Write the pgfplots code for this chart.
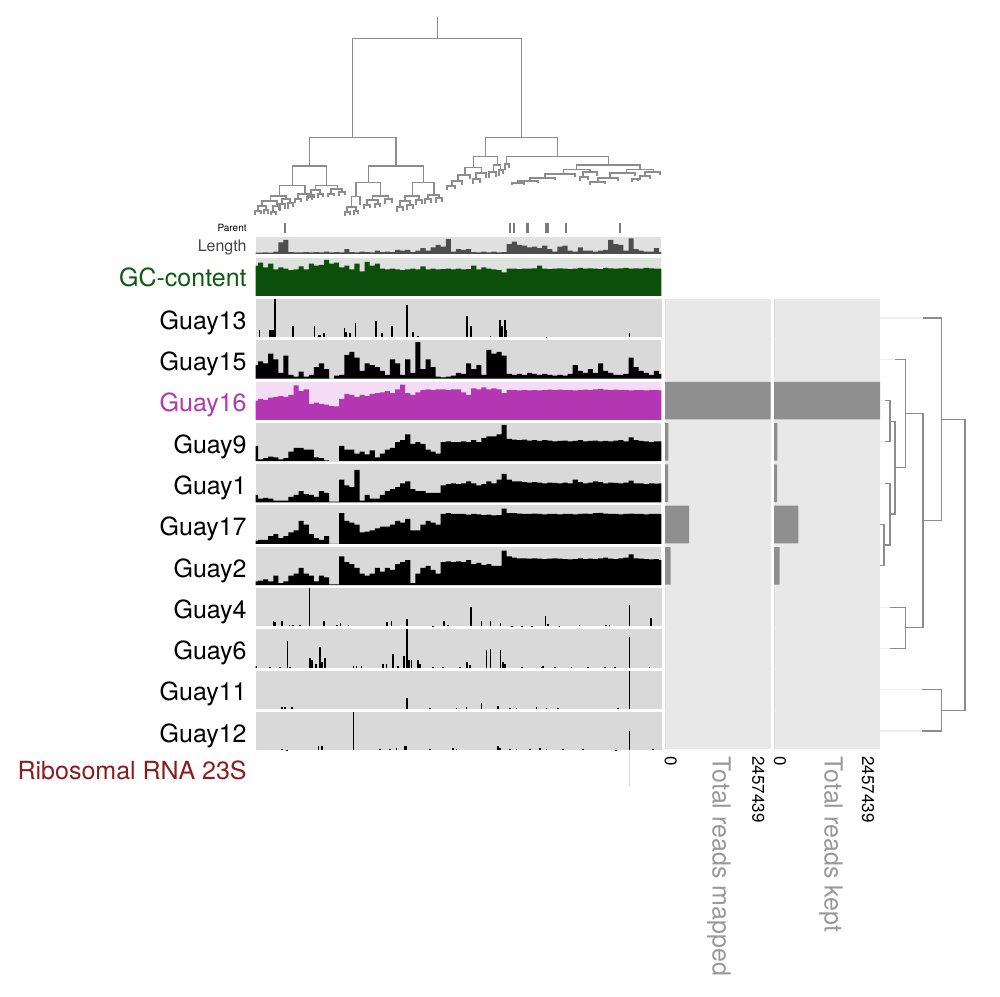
\documentclass[border=0pt]{standalone}
\usepackage{pgfplots}
\pgfplotsset{compat=1.18}
\usepackage{pgfplotstable}
\usepackage{fontspec}
\setmainfont{TeX Gyre Heros}

\definecolor{trackbg}{HTML}{D9D9D9}
\definecolor{panelbg}{HTML}{E8E8E8}
\definecolor{bargray}{HTML}{8F8F8F}
\definecolor{dendro}{HTML}{8C8C8C}
\definecolor{dendrofaint}{HTML}{EDEDED}
\definecolor{parentgray}{HTML}{7A7A7A}
\definecolor{gcgreen}{HTML}{0B4F0B}
\definecolor{gclabel}{HTML}{0E5C0E}
\definecolor{gcbg}{HTML}{DEE2DE}
\definecolor{lenbar}{HTML}{4D4D4D}
\definecolor{lenbg}{HTML}{E0E0E0}
\definecolor{lenlabel}{HTML}{444444}
\definecolor{mag}{HTML}{B336B3}
\definecolor{pinkbg}{HTML}{F5DCF5}
\definecolor{rrna}{HTML}{8B1C1C}
\definecolor{rrnaline}{HTML}{F5CFC4}
\definecolor{axisgray}{HTML}{999999}

% binned coverage profiles (81 bins along the genome, scaled 0..1 per track)
\pgfplotstableread{
k  gc   len  g15  g16  g9   g1   g17  g2
0  0.80 0.08 0.35 0.50 0.40 0.20 0.08 0.10
1  0.88 0.08 0.45 0.55 0.05 0.10 0.10 0.12
2  0.75 0.10 0.40 0.52 0.08 0.12 0.10 0.15
3  0.85 0.08 0.65 0.58 0.12 0.10 0.20 0.10
4  0.70 0.15 0.50 0.60 0.10 0.05 0.25 0.25
5  0.75 0.70 0.15 0.62 0.05 0.05 0.15 0.05
6  0.72 0.85 0.60 0.60 0.08 0.05 0.20 0.10
7  0.68 0.12 0.10 0.65 0.25 0.15 0.30 0.25
8  0.70 0.10 0.05 0.90 0.35 0.20 0.35 0.30
9  0.78 0.10 0.18 0.75 0.35 0.30 0.60 0.45
10 0.70 0.12 0.05 0.80 0.30 0.22 0.50 0.30
11 0.85 0.10 0.10 0.42 0.30 0.20 0.25 0.25
12 0.80 0.12 0.30 0.45 0.10 0.15 0.15 0.10
13 0.82 0.10 0.40 0.42 0.08 0.30 0.10 0.25
14 0.95 0.15 0.25 0.40 0.02 0.25 0.20 0.20
15 0.85 0.10 0.00 0.36 0.00 0.02 0.00 0.02
16 0.88 0.12 0.08 0.35 0.00 0.02 0.00 0.02
17 0.75 0.10 0.10 0.55 0.40 0.60 0.80 0.75
18 0.80 0.30 0.62 0.68 0.30 0.45 0.60 0.60
19 0.70 0.12 0.70 0.65 0.30 0.40 0.55 0.55
20 0.85 0.10 0.55 0.60 0.20 0.85 0.50 0.45
21 0.65 0.15 0.20 0.65 0.25 0.05 0.30 0.30
22 0.90 0.12 0.40 0.62 0.18 0.20 0.32 0.25
23 0.80 0.10 0.35 0.68 0.28 0.10 0.35 0.30
24 0.85 0.20 0.30 0.70 0.10 0.10 0.40 0.45
25 0.72 0.12 0.20 0.72 0.20 0.20 0.45 0.35
26 0.70 0.15 0.10 0.75 0.30 0.30 0.45 0.45
27 0.72 0.12 0.50 0.70 0.35 0.35 0.50 0.40
28 0.70 0.25 0.40 0.80 0.50 0.40 0.60 0.55
29 0.68 0.20 0.10 0.92 0.55 0.50 0.55 0.60
30 0.70 0.25 0.50 0.70 0.70 0.55 0.65 0.65
31 0.72 0.12 0.15 0.65 0.45 0.35 0.35 0.05
32 0.70 0.20 0.95 0.72 0.50 0.30 0.35 0.30
33 0.78 0.35 0.25 0.78 0.45 0.30 0.50 0.45
34 0.70 0.20 0.50 0.80 0.30 0.25 0.60 0.50
35 0.72 0.40 0.30 0.78 0.25 0.25 0.55 0.40
36 0.70 0.55 0.05 0.80 0.20 0.25 0.50 0.30
37 0.71 0.45 0.03 0.80 0.50 0.45 0.78 0.60
38 0.72 0.90 0.05 0.78 0.52 0.48 0.80 0.62
39 0.70 0.15 0.08 0.80 0.50 0.50 0.78 0.60
40 0.72 0.30 0.15 0.80 0.50 0.48 0.78 0.62
41 0.70 0.25 0.12 0.72 0.52 0.50 0.78 0.60
42 0.71 0.30 0.40 0.65 0.50 0.55 0.76 0.65
43 0.80 0.12 0.25 0.82 0.55 0.50 0.78 0.55
44 0.70 0.10 0.35 0.80 0.50 0.45 0.77 0.58
45 0.75 0.15 0.10 0.85 0.60 0.48 0.75 0.52
46 0.72 0.10 0.75 0.80 0.65 0.55 0.76 0.55
47 0.70 0.15 0.65 0.82 0.65 0.50 0.74 0.50
48 0.68 0.10 0.70 0.80 0.70 0.60 0.75 0.50
49 0.62 0.12 0.60 0.70 0.95 0.75 0.92 0.90
50 0.72 0.60 0.12 0.78 0.58 0.60 0.80 0.75
51 0.72 0.75 0.10 0.78 0.56 0.55 0.80 0.72
52 0.71 0.55 0.12 0.77 0.55 0.55 0.79 0.70
53 0.72 0.50 0.10 0.78 0.56 0.53 0.78 0.70
54 0.72 0.40 0.15 0.77 0.54 0.52 0.78 0.69
55 0.73 0.45 0.12 0.78 0.55 0.53 0.79 0.70
56 0.80 0.35 0.10 0.77 0.53 0.52 0.78 0.69
57 0.72 0.50 0.12 0.78 0.55 0.50 0.77 0.68
58 0.71 0.30 0.10 0.79 0.54 0.52 0.78 0.69
59 0.72 0.15 0.08 0.78 0.52 0.51 0.78 0.70
60 0.73 0.45 0.10 0.79 0.53 0.50 0.77 0.69
61 0.72 0.50 0.08 0.78 0.54 0.52 0.78 0.68
62 0.71 0.20 0.12 0.78 0.52 0.50 0.78 0.67
63 0.72 0.15 0.35 0.77 0.53 0.60 0.77 0.68
64 0.74 0.40 0.20 0.78 0.55 0.53 0.78 0.70
65 0.72 0.20 0.15 0.79 0.52 0.50 0.79 0.68
66 0.73 0.20 0.25 0.78 0.53 0.52 0.78 0.69
67 0.72 0.15 0.15 0.80 0.54 0.55 0.80 0.68
68 0.71 0.20 0.40 0.81 0.52 0.53 0.81 0.70
69 0.74 0.25 0.20 0.79 0.53 0.50 0.79 0.72
70 0.73 0.85 0.15 0.78 0.52 0.52 0.78 0.69
71 0.72 0.60 0.10 0.79 0.54 0.51 0.78 0.68
72 0.73 0.55 0.10 0.78 0.55 0.50 0.77 0.70
73 0.74 0.20 0.12 0.78 0.52 0.52 0.78 0.72
74 0.72 0.95 0.55 0.77 0.62 0.57 0.79 0.80
75 0.73 0.30 0.30 0.78 0.55 0.50 0.78 0.70
76 0.72 0.20 0.20 0.78 0.53 0.50 0.78 0.69
77 0.74 0.15 0.15 0.77 0.52 0.48 0.77 0.68
78 0.73 0.15 0.10 0.78 0.50 0.50 0.78 0.67
79 0.72 0.35 0.20 0.78 0.52 0.49 0.78 0.68
80 0.72 0.12 0.12 0.77 0.52 0.50 0.78 0.66
}\dense

\pgfplotsset{
  track/.style={scale only axis, width=203pt, height=19.15pt,
    axis line style={draw=none}, ticks=none,
    ymin=0, ymax=1, anchor=north west,
    axis background/.style={fill=trackbg}},
  dense/.style={track, xmin=0, xmax=80},
  sparse/.style={track, xmin=0, xmax=1220},
  panel/.style={scale only axis, anchor=north west, width=53pt, height=225pt,
    xmin=0, xmax=2457439, ymin=-0.453, ymax=10.443, y dir=reverse,
    xbar, bar width=0.91, axis line style={draw=none}, ticks=none,
    axis background/.style={fill=panelbg}},
  spike/.style={ycomb, black, line width=0.8pt},
  prof/.style={const plot mark mid, draw=none, fill=#1},
}

\begin{document}
\begin{tikzpicture}
\useasboundingbox (0,0) rectangle (500pt,498pt);

% Parent
\begin{axis}[sparse, at={(127.75pt,386.35pt)}, height=5pt, axis background/.style={}]
\addplot[ycomb, color=parentgray, line width=0.9pt] coordinates {(89,1) (764,1) (776,1) (934,1) (1096,1)};
\addplot[ycomb, color=parentgray, line width=1.8pt] coordinates {(817,1) (876,1)};
\end{axis}

% Length
\begin{axis}[dense, at={(127.75pt,379.25pt)}, height=8.25pt, axis background/.style={fill=lenbg}]
\addplot[prof=lenbar] table[x=k, y=len] {\dense} \closedcycle;
\end{axis}

% GC-content
\begin{axis}[dense, at={(127.75pt,369pt)}, height=19pt, axis background/.style={fill=gcbg}]
\addplot[prof=gcgreen] table[x=k, y=gc] {\dense} \closedcycle;
\end{axis}

% Guay13
\begin{axis}[sparse, at={(127.75pt,348.5pt)}]
\addplot[spike] coordinates {(12,0.2) (42,0.2) (46,0.2) (52,0.2) (59,1.0) (112,0.3) (177,0.3) (189,0.05) (194,0.07) (206,0.1) (268,0.25) (272,0.15) (284,0.1) (301,0.37) (362,0.42) (381,0.1) (411,0.3) (456,0.85) (474,0.15) (489,0.03) (636,0.55) (648,0.3) (706,0.03) (734,0.45) (741,0.3) (749,0.45) (752,0.2) (874,0.02) (1124,0.1)};
\end{axis}

% Guay15
\begin{axis}[dense, at={(127.75pt,327.85pt)}]
\addplot[prof=black] table[x=k, y=g15] {\dense} \closedcycle;
\end{axis}

% Guay16
\begin{axis}[dense, at={(127.75pt,307.2pt)}, axis background/.style={fill=pinkbg}]
\addplot[prof=mag] table[x=k, y=g16] {\dense} \closedcycle;
\end{axis}

% Guay9
\begin{axis}[dense, at={(127.75pt,286.55pt)}]
\addplot[prof=black] table[x=k, y=g9] {\dense} \closedcycle;
\end{axis}

% Guay1
\begin{axis}[dense, at={(127.75pt,265.9pt)}]
\addplot[prof=black] table[x=k, y=g1] {\dense} \closedcycle;
\end{axis}

% Guay17
\begin{axis}[dense, at={(127.75pt,245.25pt)}]
\addplot[prof=black] table[x=k, y=g17] {\dense} \closedcycle;
\end{axis}

% Guay2
\begin{axis}[dense, at={(127.75pt,224.6pt)}]
\addplot[prof=black] table[x=k, y=g2] {\dense} \closedcycle;
\end{axis}

% Guay4
\begin{axis}[sparse, at={(127.75pt,203.95pt)}]
\addplot[spike] coordinates {(54,0.15) (59,0.12) (79,0.15) (102,0.03) (112,0.03) (134,0.03) (162,1.0) (206,0.15) (244,0.03) (256,0.08) (279,0.03) (396,0.12) (409,0.15) (456,0.2) (534,0.02) (567,0.15) (579,0.04) (647,0.5) (679,0.15) (706,0.15) (736,0.08) (770,0.02) (800,0.02) (830,0.02) (871,0.27) (879,0.05) (914,0.02) (974,0.03) (1054,0.04) (1064,0.04) (1124,0.55) (1189,0.22)};
\end{axis}

% Guay6
\begin{axis}[sparse, at={(127.75pt,183.3pt)}]
\addplot[spike] coordinates {(2,0.05) (44,0.03) (74,0.03) (96,0.7) (104,0.03) (164,0.25) (169,0.2) (182,0.1) (194,0.55) (199,0.15) (209,0.25) (294,0.04) (304,0.04) (319,0.05) (384,0.1) (394,0.1) (414,0.35) (429,0.05) (446,0.3) (456,1.0) (462,0.2) (469,0.2) (489,0.2) (494,0.1) (534,0.02) (564,0.02) (614,0.02) (636,0.15) (644,0.08) (694,0.45) (706,0.5) (736,0.45) (744,0.15) (749,0.1) (800,0.03) (860,0.03) (864,0.04) (900,0.03) (950,0.03) (1000,0.03) (1050,0.03) (1080,0.03) (1124,0.8) (1184,0.02)};
\end{axis}

% Guay11
\begin{axis}[sparse, at={(127.75pt,162.65pt)}]
\addplot[spike] coordinates {(79,0.04) (89,0.04) (109,0.05) (456,0.28) (524,0.03) (604,0.03) (634,0.04) (679,0.15) (729,0.08) (764,0.03) (784,0.03) (844,0.04) (874,0.03) (909,0.03) (1089,0.02) (1124,1.0)};
\end{axis}

% Guay12
\begin{axis}[sparse, at={(127.75pt,142pt)}]
\addplot[spike] coordinates {(79,0.03) (94,0.02) (189,0.12) (199,0.12) (294,1.0) (374,0.03) (404,0.04) (424,0.05) (449,0.1) (454,0.12) (524,0.03) (594,0.05) (604,0.04) (729,0.1) (734,0.07) (764,0.03) (784,0.03) (824,0.04) (854,0.05) (874,0.03) (924,0.04) (984,0.03) (1084,0.02) (1124,0.5) (1194,0.03)};
\end{axis}

% Ribosomal RNA 23S
\begin{axis}[sparse, at={(127.75pt,122.5pt)}, height=17.5pt, axis background/.style={}]
\addplot[ycomb, color=rrnaline, line width=0.6pt] coordinates {(1124,1)};
\end{axis}

% Total reads mapped
\begin{axis}[panel, at={(332.5pt,348.35pt)}, width=52.85pt]
\addplot[fill=bargray, draw=none] coordinates {(2000,0) (2500,1) (2457439,2) (76000,3) (70000,4) (558000,5) (132000,6) (0,7) (0,8) (0,9) (0,10)};
\end{axis}

% Total reads kept
\begin{axis}[panel, at={(387pt,348.35pt)}]
\addplot[fill=bargray, draw=none] coordinates {(1500,0) (2000,1) (2457439,2) (76000,3) (74000,4) (563000,5) (132000,6) (0,7) (0,8) (0,9) (0,10)};
\end{axis}

% overlay in pixel units: dendrograms and labels
\begin{axis}[at={(0pt,0pt)}, anchor=south west, scale only axis, width=500pt, height=498pt,
  xmin=0, xmax=1000, ymin=0, ymax=996, y dir=reverse, hide axis, clip=false,
  unbounded coords=jump]
% column dendrogram
\addplot[color=dendro, line width=0.55pt] coordinates {
(437.3,17.3) (437.3,38.3) (nan,nan)
(352.7,137.7) (352.7,38.3) (521.7,38.3) (521.7,137.7) (nan,nan)
(309.3,166) (309.3,137.7) (396,137.7) (396,166) (nan,nan)
(292.3,185.7) (292.3,166) (326.7,166) (326.7,185.7) (nan,nan)
(279.3,196) (279.3,185.7) (305,185.7) (305,194) (nan,nan)
(270.7,201) (270.7,196) (286,196) (286,199) (nan,nan)
(262,206) (262,201) (277,201) (277,206) (nan,nan)
(258,211) (258,206) (266,206) (266,210) (nan,nan)
(255,215) (255,211) (261,211) (261,214) (nan,nan)
(264,214) (264,210) (268,210) (268,214) (nan,nan)
(273,212) (273,206) (280,206) (280,211) (nan,nan)
(271,215) (271,212) (276,212) (276,215) (nan,nan)
(282,204) (282,199) (290,199) (290,203) (nan,nan)
(279,210) (279,204) (285,204) (285,209) (nan,nan)
(288,209) (288,203) (293,203) (293,207) (nan,nan)
(298,199) (298,194) (310,194) (310,197) (nan,nan)
(295,203) (295,199) (301,199) (301,202) (nan,nan)
(307,201) (307,197) (312,197) (312,200) (nan,nan)
(315.7,190) (315.7,185.7) (337.3,185.7) (337.3,189) (nan,nan)
(311,195) (311,190) (320,190) (320,194) (nan,nan)
(308,199) (308,195) (314,195) (314,198) (nan,nan)
(318,198) (318,194) (323,194) (323,197) (nan,nan)
(331,194) (331,189) (342,189) (342,192) (nan,nan)
(328,197) (328,194) (334,194) (334,196) (nan,nan)
(339,196) (339,192) (345,192) (345,195) (nan,nan)
(368.3,182.7) (368.3,166) (423.3,166) (423.3,182.7) (nan,nan)
(356,196.7) (356,182.7) (380.7,182.7) (380.7,196) (nan,nan)
(351.7,207) (351.7,196.7) (360,196.7) (360,205) (nan,nan)
(347,212) (347,207) (356,207) (356,211) (nan,nan)
(345,216) (345,212) (350,212) (350,215) (nan,nan)
(354,215) (354,211) (358,211) (358,214) (nan,nan)
(372.7,200) (372.7,196) (388.3,196) (388.3,199) (nan,nan)
(367,205) (367,200) (378,200) (378,204) (nan,nan)
(364,209) (364,205) (370,205) (370,208) (nan,nan)
(375,208) (375,204) (380,204) (380,207) (nan,nan)
(385,204) (385,199) (392,199) (392,203) (nan,nan)
(412.7,196) (412.7,182.7) (434,182.7) (434,195) (nan,nan)
(405,201) (405,196) (419,196) (419,200) (nan,nan)
(400,207) (400,201) (410,201) (410,205) (nan,nan)
(397,212) (397,207) (403,207) (403,211) (nan,nan)
(407,210) (407,205) (413,205) (413,209) (nan,nan)
(416,205) (416,200) (422,200) (422,204) (nan,nan)
(428,199) (428,195) (439,195) (439,198) (nan,nan)
(425,204) (425,199) (431,199) (431,203) (nan,nan)
(436,203) (436,198) (442,198) (442,202) (nan,nan)
(485.7,156.7) (485.7,137.7) (557.3,137.7) (557.3,156.7) (nan,nan)
(473.3,167.7) (473.3,156.7) (497.3,156.7) (497.3,165) (nan,nan)
(465,175) (465,167.7) (481.7,167.7) (481.7,173) (nan,nan)
(458,181) (458,175) (470,175) (470,179) (nan,nan)
(452,186) (452,181) (462,181) (462,185) (nan,nan)
(447,190) (447,186) (455,186) (455,189) (nan,nan)
(476,179) (476,173) (486,173) (486,178) (nan,nan)
(473,184) (473,179) (480,179) (480,183) (nan,nan)
(493.3,172) (493.3,165) (500.7,165) (500.7,170) (nan,nan)
(489,178) (489,172) (496,172) (496,177) (nan,nan)
(499,176) (499,170) (503,170) (503,174) (nan,nan)
(506.7,164) (506.7,156.7) (608.3,156.7) (608.3,165) (nan,nan)
(505,170) (505,164) (509,164) (509,168) (nan,nan)
(576.7,169.3) (576.7,165) (640,165) (640,169.3) (nan,nan)
(563.3,174) (563.3,169.3) (590,169.3) (590,172) (nan,nan)
(545,178) (545,174) (575,174) (575,177) (nan,nan)
(530,181) (530,178) (555,178) (555,180) (nan,nan)
(518,183) (518,181) (538,181) (538,183) (nan,nan)
(512,185) (512,183) (524,183) (524,185) (nan,nan)
(583,177) (583,172) (597,172) (597,176) (nan,nan)
(580,181) (580,177) (588,177) (588,180) (nan,nan)
(626.7,173) (626.7,169.3) (653.3,169.3) (653.3,172) (nan,nan)
(610,178) (610,173) (635,173) (635,176) (nan,nan)
(598,182) (598,178) (618,178) (618,181) (nan,nan)
(590,185) (590,182) (605,182) (605,184) (nan,nan)
(645,176) (645,172) (660,172) (660,175) (nan,nan)
(640,180) (640,176) (650,176) (650,179) (nan,nan)
(632,182) (632,179) (638,179) (638,181)
};
% row dendrogram
\addplot[color=dendrofaint, line width=0.55pt] coordinates {
(880,318) (923,318) (nan,nan)
(880,359.3) (895,359.3) (nan,nan)
(880,400.6) (885,400.6) (nan,nan)
(880,441.9) (885,441.9) (nan,nan)
(880,483.2) (885,483.2) (nan,nan)
(880,607.1) (890,607.1) (nan,nan)
(880,648.4) (890,648.4) (nan,nan)
(880,689.7) (922,689.7) (nan,nan)
(880,731) (922,731)
};
\addplot[color=dendro, line width=0.55pt] coordinates {
(885,400.6) (890,400.6) (890,441.9) (885,441.9) (nan,nan)
(880,524.5) (884,524.5) (884,565.8) (880,565.8) (nan,nan)
(885,483.2) (890,483.2) (890,545) (884,545) (nan,nan)
(890,421.3) (895,421.3) (895,514) (890,514) (nan,nan)
(895,359.3) (905.7,359.3) (905.7,467.7) (895,467.7) (nan,nan)
(890,607.1) (905.7,607.1) (905.7,648.4) (890,648.4) (nan,nan)
(905.7,413.5) (923,413.5) (923,627.7) (905.7,627.7) (nan,nan)
(923,318) (941.7,318) (941.7,520.6) (923,520.6) (nan,nan)
(922,689.7) (941.7,689.7) (941.7,731) (922,731) (nan,nan)
(941.7,419.3) (965,419.3) (965,710.3) (941.7,710.3)
};

% row labels
\begin{scope}[every node/.style={anchor=base east, inner sep=0pt, font=\fontsize{12.5}{15}\selectfont}]
\node at (axis cs:247,329.2) {Guay13};
\node at (axis cs:247,370.5) {Guay15};
\node[text=mag] at (axis cs:247,411.8) {Guay16};
\node at (axis cs:247,453.1) {Guay9};
\node at (axis cs:247,494.4) {Guay1};
\node at (axis cs:247,535.7) {Guay17};
\node at (axis cs:247,577) {Guay2};
\node at (axis cs:247,618.3) {Guay4};
\node at (axis cs:247,659.6) {Guay6};
\node at (axis cs:247,700.9) {Guay11};
\node at (axis cs:247,742.2) {Guay12};
\node[text=gclabel] at (axis cs:247,286) {GC-content};
\node[text=rrna] at (axis cs:247,779) {Ribosomal RNA 23S};
\node[text=lenlabel, font=\fontsize{8}{9}\selectfont] at (axis cs:247,251) {Length};
\node[font=\fontsize{5}{6}\selectfont] at (axis cs:247,231.6) {Parent};
\end{scope}

% bar panel axes
\begin{scope}[every node/.style={rotate=-90, anchor=west, inner sep=0pt}]
\node[font=\fontsize{8.5}{10}\selectfont] at (axis cs:670.8,756) {0};
\node[font=\fontsize{8.5}{10}\selectfont] at (axis cs:758.3,756) {2457439};
\node[font=\fontsize{12.5}{15}\selectfont, text=axisgray] at (axis cs:719,756) {Total reads mapped};
\node[font=\fontsize{8.5}{10}\selectfont] at (axis cs:780,756) {0};
\node[font=\fontsize{8.5}{10}\selectfont] at (axis cs:868,756) {2457439};
\node[font=\fontsize{12.5}{15}\selectfont, text=axisgray] at (axis cs:831,756) {Total reads kept};
\end{scope}
\end{axis}
\end{tikzpicture}
\end{document}
